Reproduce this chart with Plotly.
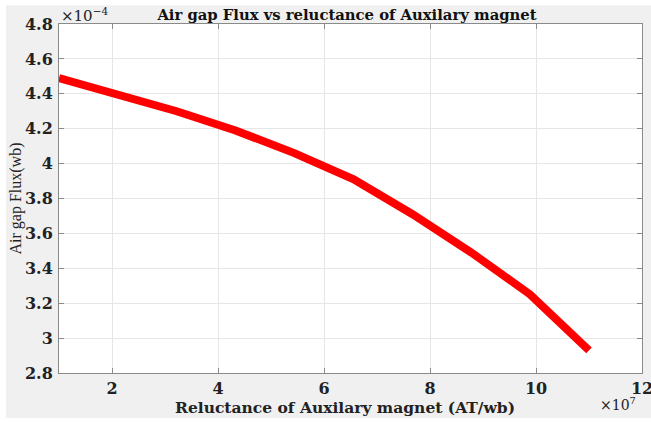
import plotly.graph_objects as go

# Reluctance (x 1e7 AT/wb) and air gap flux (x 1e-4 wb)
reluctance = [1.0, 2.11, 3.22, 4.33, 5.44, 6.56, 7.67, 8.78, 9.89, 11.0]
flux = [4.49, 4.40, 4.30, 4.19, 4.06, 3.91, 3.71, 3.49, 3.25, 2.93]

x_ticks = [2, 4, 6, 8, 10, 12]
y_ticks = [2.8, 3.0, 3.2, 3.4, 3.6, 3.8, 4.0, 4.2, 4.4, 4.6, 4.8]
y_labels = ["2.8", "3", "3.2", "3.4", "3.6", "3.8", "4", "4.2", "4.4", "4.6", "4.8"]

wide = "DejaVu Serif"
narrow = "Liberation Serif"
ink = "#222222"

fig = go.Figure()
fig.add_trace(go.Scatter(x=reluctance, y=flux, mode="lines",
                         line=dict(color="#ff0000", width=8),
                         showlegend=False, hoverinfo="skip"))

axis_common = dict(showline=True, linecolor="#8a8a8a", linewidth=1, mirror="ticks",
                   ticks="inside", ticklen=5, tickcolor="#8a8a8a",
                   showgrid=True, gridcolor="#e6e6e6", gridwidth=1, zeroline=False,
                   ticklabeloverflow="allow", automargin=False)

fig.update_xaxes(range=[1, 12], tickvals=x_ticks, ticktext=[str(v) for v in x_ticks],
                 tickfont=dict(family=wide, size=16, color=ink, weight="bold"),
                 ticklabelstandoff=1, **axis_common)
fig.update_yaxes(range=[2.8, 4.8], tickvals=y_ticks, ticktext=y_labels,
                 tickfont=dict(family=wide, size=16, color=ink, weight="bold"),
                 ticklabelstandoff=2, **axis_common)

# plot area spans pixels x 59..642, y 24..373
fig.add_annotation(x=(345 - 59) / 583, xref="paper", y=0, yref="paper",
                   text="<b>Reluctance of Auxilary magnet (AT/wb)</b>", showarrow=False,
                   xanchor="center", yanchor="top", yshift=-23,
                   font=dict(family=wide, size=15.5, color=ink))
fig.add_annotation(x=(15 - 59) / 583, xref="paper", y=0.5, yref="paper",
                   text="Air gap Flux(wb)", showarrow=False, textangle=-90,
                   xanchor="center", yanchor="middle",
                   font=dict(family=narrow, size=16, color=ink))

fig.add_annotation(x=0, y=1, xref="paper", yref="paper", xanchor="left", yanchor="bottom",
                   text="×10<sup>−4</sup>", showarrow=False, yshift=-3, xshift=0,
                   font=dict(family=wide, size=15, color=ink))
fig.add_annotation(x=1, y=0, xref="paper", yref="paper", xanchor="right", yanchor="top",
                   text="×10<sup>7</sup>", showarrow=False, yshift=-20, xshift=-4,
                   font=dict(family=wide, size=14, color=ink))

# thin white strips around the grey figure background
for (x0, x1, y0, y1) in [(-0.2, -0.0909, -0.3, 1.3), (-0.2, 1.2, 1.054, 1.3),
                         (-0.2, 1.2, -0.3, -0.129)]:
    fig.add_shape(type="rect", xref="paper", yref="paper", x0=x0, x1=x1, y0=y0, y1=y1,
                  fillcolor="white", line=dict(width=0), layer="below")

fig.update_layout(
    width=651, height=422,
    margin=dict(l=59, r=9, t=24, b=49),
    paper_bgcolor="#f0f0f0", plot_bgcolor="white",
    title=dict(text="<b>Air gap Flux vs reluctance of Auxilary magnet</b>",
               x=0.533, xanchor="center", y=0.977, yanchor="top",
               font=dict(family=wide, size=14.8, color="#111111")),
)

fig.write_html("out.html", config={"displayModeBar": False},
               post_script="document.body.style.margin='0';document.body.style.overflow='hidden';")
